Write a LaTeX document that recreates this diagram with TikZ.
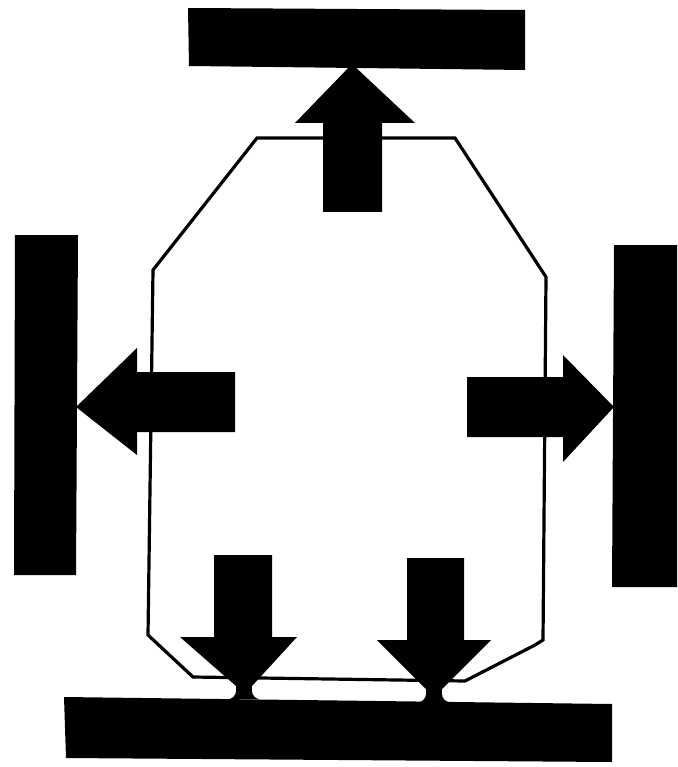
\documentclass[tikz,border=0pt]{standalone}
\begin{document}
\begin{tikzpicture}[x=1pt,y=-1pt,
  bar/.style={fill=black},
  blockarrow/.style={fill=black},
  hull/.style={draw=black,line width=3.2pt,line join=miter}]
\useasboundingbox[fill=white] (0,0) rectangle (677,767);
% body outline
\draw[hull] (257,138) -- (455,138) -- (546,277) -- (543,640) -- (535,645)
  -- (465,681) -- (193,677) -- (148,635) -- (153,270) -- cycle;
% bars
\fill[bar] (188,8) -- (525,10) -- (525,70) -- (189,66) -- cycle;
\fill[bar] (15,235) -- (78,235) -- (76,575) -- (14,575) -- cycle;
\fill[bar] (614,245) -- (677,245) -- (677,587) -- (612,587) -- cycle;
\fill[bar] (64,697) -- (612,704) -- (612,762) -- (66,758) -- cycle;
% top arrow
\fill[blockarrow] (323,212) -- (323,123) -- (295,123) -- (352,64) -- (415,123)
  -- (382,123) -- (382,212) -- cycle;
% left arrow
\fill[blockarrow] (235,372) -- (137,372) -- (137,348) -- (76,407) -- (137,455)
  -- (137,432) -- (235,432) -- cycle;
% right arrow
\fill[blockarrow] (467,377) -- (563,377) -- (563,355) -- (614,407) -- (563,462)
  -- (563,437) -- (467,437) -- cycle;
% bottom arrows
\fill[blockarrow] (214,555) -- (272,555) -- (272,637) -- (297,637) -- (252,686)
  .. controls (251,693) and (253,697) .. (258,699) -- (230,699)
  .. controls (235,697) and (237,693) .. (236,686) -- (180,637) -- (214,637) -- cycle;
\fill[blockarrow] (407,558) -- (464,558) -- (464,640) -- (491,640) -- (442,689)
  .. controls (441,696) and (443,700) .. (448,702) -- (420,702)
  .. controls (425,700) and (427,696) .. (426,689) -- (377,640) -- (407,640) -- cycle;
\end{tikzpicture}
\end{document}
